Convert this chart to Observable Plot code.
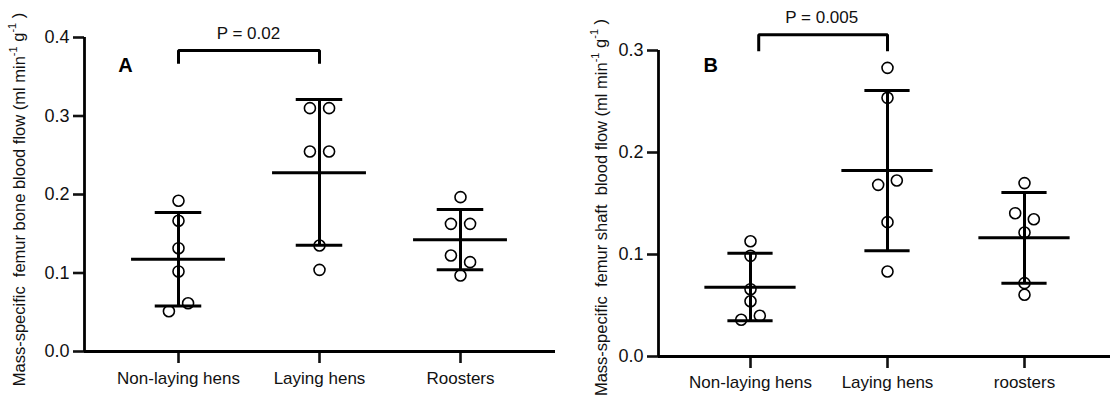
<!DOCTYPE html>
<html>
<head>
<meta charset="utf-8">
<script src="https://cdn.jsdelivr.net/npm/d3@7"></script>
<script src="https://cdn.jsdelivr.net/npm/@observablehq/plot@0.6"></script>
<style>
  html, body { margin: 0; padding: 0; background: #fff; }
  #wrap { display: flex; width: 1113px; height: 399px; }
  svg text { white-space: pre; }
</style>
</head>
<body>
<div id="wrap"></div>
<script>
// ---- Panel A data ----
const catsA = ["Non-laying hens", "Laying hens", "Roosters"];
const pointGroupA = [0, 0, 0, 0, 0, 0, 1, 1, 1, 1, 1, 1, 2, 2, 2, 2, 2, 2];
const pointValueA = [0.192, 0.1665, 0.1316, 0.102, 0.0615, 0.0513,
                     0.310, 0.310, 0.2548, 0.2548, 0.135, 0.104,
                     0.1966, 0.1626, 0.1626, 0.1223, 0.1138, 0.0968];
const pointSideA  = [0, 0, 0, 0, 1, -1,
                     -1, 1, -1, 1, 0, 0,
                     0, -1, 1, -1, 1, 0];
const meanA  = [0.1176, 0.2276, 0.1423];
const upperA = [0.177, 0.321, 0.181];
const lowerA = [0.058, 0.1354, 0.104];
const ticksA = [0, 0.1, 0.2, 0.3, 0.4];
const pTextA = "P = 0.02";
const bracketA = {from: 0, to: 1, top: 0.3834, bottom: 0.3665, textY: 0.405};

// ---- Panel B data ----
const catsB = ["Non-laying hens", "Laying hens", "roosters"];
const pointGroupB = [0, 0, 0, 0, 0, 0, 1, 1, 1, 1, 1, 1, 2, 2, 2, 2, 2, 2];
const pointValueB = [0.113, 0.0987, 0.066, 0.0542, 0.040, 0.036,
                     0.283, 0.2536, 0.1725, 0.1683, 0.1317, 0.0833,
                     0.170, 0.1405, 0.1346, 0.1216, 0.0719, 0.0605];
const pointSideB  = [0, 0, 0, 0, 1, -1,
                     0, 0, 1, -1, 0, 0,
                     0, -1, 1, 0, 0, 0];
const meanB  = [0.068, 0.1824, 0.1164];
const upperB = [0.1013, 0.2608, 0.1608];
const lowerB = [0.035, 0.1036, 0.0719];
const ticksB = [0, 0.1, 0.2, 0.3];
const pTextB = "P = 0.005";
const bracketB = {from: 0.06, to: 1, top: 0.3154, bottom: 0.2993, textY: 0.3326};

const labelA = ["Mass-specific  femur bone blood flow (ml min", "-1", " g", "-1", " )"];
const labelB = ["Mass-specific  femur shaft  blood flow (ml min", "-1", " g", "-1", " )"];

const FONT = "'Liberation Sans', Arial, Helvetica, sans-serif";
const JIT = 0.068;

function panel(cfg) {
  const pts = cfg.values.map((v, i) => ({g: cfg.groups[i], v, side: cfg.sides[i]}));
  const summ = cfg.cats.map((c, i) => ({i, mean: cfg.mean[i], up: cfg.upper[i], lo: cfg.lower[i]}));
  const ymax = cfg.ticks[cfg.ticks.length - 1];
  const xd = cfg.xDomain;
  const br = cfg.bracket;
  const svg = Plot.plot({
    width: cfg.width, height: 399,
    marginLeft: cfg.ml, marginRight: cfg.mr, marginTop: cfg.mt, marginBottom: cfg.mb,
    style: {fontFamily: FONT, fontSize: "17px", color: "#111", background: "#fff"},
    x: {domain: xd},
    y: {domain: [0, ymax]},
    marks: [
      Plot.axisY({ticks: cfg.ticks, tickFormat: d3.format(".1f"), tickSize: 11, tickPadding: 4,
                  strokeWidth: 2.6, label: null, fontSize: 18}),
      Plot.axisX({ticks: [0, 1, 2], tickFormat: i => cfg.cats[i], tickSize: 12, tickPadding: cfg.xpad,
                  strokeWidth: 2.6, label: null, fontSize: 17}),
      Plot.ruleY([0], {x1: xd[0], x2: xd[1], strokeWidth: 2.8, stroke: "#000"}),
      Plot.ruleX([xd[0]], {y1: 0, y2: ymax, strokeWidth: 2.8, stroke: "#000"}),
      // error bars
      Plot.ruleX(summ, {x: "i", y1: "lo", y2: "up", strokeWidth: 3, stroke: "#000"}),
      Plot.ruleY(summ, {y: "up", x1: d => d.i - 0.165, x2: d => d.i + 0.165, strokeWidth: 3, stroke: "#000"}),
      Plot.ruleY(summ, {y: "lo", x1: d => d.i - 0.165, x2: d => d.i + 0.165, strokeWidth: 3, stroke: "#000"}),
      Plot.ruleY(summ, {y: "mean", x1: d => d.i - 0.333, x2: d => d.i + 0.333, strokeWidth: 3, stroke: "#000"}),
      // points
      Plot.dot(pts, {x: d => d.g + d.side * JIT, y: "v", r: 5.5, stroke: "#000", strokeWidth: 1.6, fill: "none"}),
      // significance bracket
      Plot.line([{x: br.from, y: br.bottom}, {x: br.from, y: br.top}, {x: br.to, y: br.top}, {x: br.to, y: br.bottom}],
                {x: "x", y: "y", strokeWidth: 3, stroke: "#000", strokeLinejoin: "miter", strokeLinecap: "butt"}),
      Plot.text([cfg.pText], {x: cfg.pTextX, y: br.textY, text: d => d, fontSize: 17, fill: "#111"}),
      // panel letter
      Plot.text([cfg.letter], {x: cfg.letterX, y: cfg.letterY, text: d => d, fontSize: 20, fontWeight: "bold", fill: "#000"}),
      // y label
      Plot.text(["ylab"], {frameAnchor: "left", rotate: -90, dx: cfg.labDx, dy: cfg.labDy, text: d => d,
                           textAnchor: "middle", lineAnchor: "middle", fontSize: 16.5, fill: "#111", className: "ylab"})
    ]
  });
  // build superscripts in the y label
  const t = d3.select(svg).select("g.ylab text");
  t.text(null);
  cfg.label.forEach((s, k) => {
    const sup = k === 1 || k === 3;
    const ts = t.append("tspan").text(s);
    if (sup) ts.attr("font-size", 11).attr("dy", "-0.75em");
    else if (k > 0) ts.attr("dy", "0.48em");
  });
  return svg;
}

const wrap = document.getElementById("wrap");
wrap.appendChild(panel({
  cats: catsA, groups: pointGroupA, values: pointValueA, sides: pointSideA,
  mean: meanA, upper: upperA, lower: lowerA, ticks: ticksA,
  width: 560, ml: 84, mr: 5, mt: 37, mb: 48, xpad: 8,
  xDomain: [-94 / 141, (555 - 178) / 141],
  bracket: bracketA, pText: pTextA, pTextX: 0.496,
  letter: "A", letterX: -0.376, letterY: 0.364,
  label: labelA, labDx: -65, labDy: 5
}));
wrap.appendChild(panel({
  cats: catsB, groups: pointGroupB, values: pointValueB, sides: pointSideB,
  mean: meanB, upper: upperB, lower: lowerB, ticks: ticksB,
  width: 553, ml: 98, mr: 3, mt: 50, mb: 43, xpad: 7,
  xDomain: [(658 - 750) / 137, (1110 - 750) / 137],
  bracket: bracketB, pText: pTextB, pTextX: 0.52,
  letter: "B", letterX: -0.29, letterY: 0.285,
  label: labelB, labDx: -57, labDy: 4
}));
</script>
</body>
</html>
